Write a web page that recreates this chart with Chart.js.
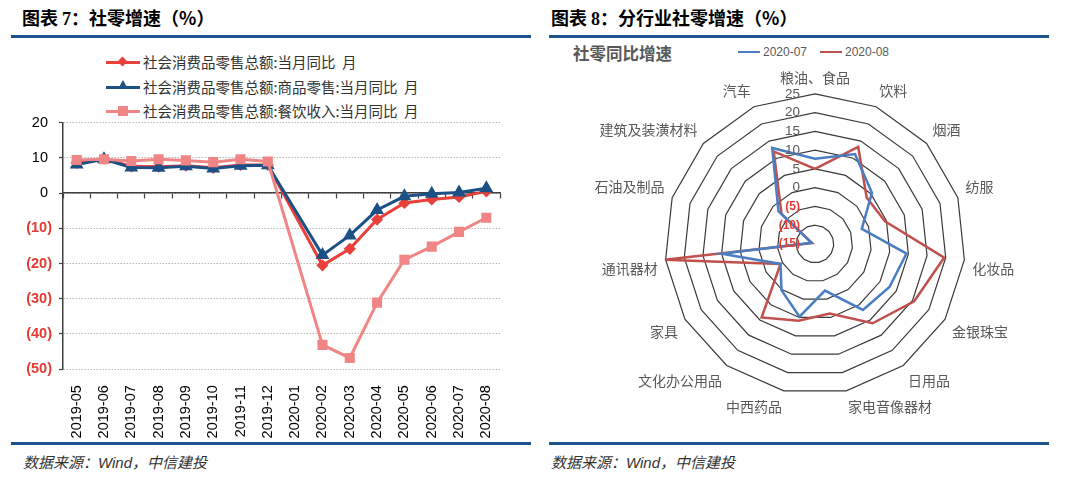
<!DOCTYPE html>
<html>
<head>
<meta charset="utf-8">
<title>社零增速</title>
<script src="https://cdn.jsdelivr.net/npm/chart.js"></script>
<style>
    body { margin: 0; width: 1080px; height: 500px; background: #fff; position: relative; overflow: hidden; font-family: "Noto Sans CJK SC", sans-serif; }
    .title { position: absolute; top: 4px; font-size: 18px; font-weight: bold; color: #000; white-space: nowrap; }
    .title .num { font-family: "Liberation Serif", serif; }
    .rule { position: absolute; height: 3px; background: #1F538D; }
    .source { position: absolute; top: 451px; font-size: 15px; font-style: italic; color: #333; white-space: nowrap; }
    .source .en { font-family: "Liberation Sans", sans-serif; }
    .box { position: absolute; }
    .legend-row { position: absolute; left: 106px; height: 20px; font-size: 14.5px; color: #333; white-space: nowrap; }
    .legend-row .ln { position: absolute; left: 0; top: 9px; width: 34px; height: 3px; }
    .legend-row .mk { position: absolute; }
    .legend-row .tx { position: absolute; left: 37px; top: -1px; }
    .rtitle { position: absolute; left: 573px; top: 41px; font-size: 16.5px; font-weight: bold; color: #595959; }
    .rleg { position: absolute; top: 45px; font-size: 12px; color: #595959; font-family: "Liberation Sans", sans-serif; white-space: nowrap; }
    .rleg span { display: inline-block; width: 22px; height: 2px; vertical-align: middle; margin-right: 3px; position: relative; top: -1px; }
</style>
</head>
<body>
    <!-- 左: 社零增速 -->
    <div class="title" style="left:22px;">图表&nbsp;<span class="num">7</span>：社零增速（%）</div>
    <div class="rule" style="left:11px; top:35px; width:520px;"></div>

    <div class="legend-row" style="top:52px;">
        <div class="ln" style="background:#E8403A;"></div>
        <div class="mk" style="left:13px; top:6px; width:7px; height:7px; background:#E8403A; transform:rotate(45deg);"></div>
        <div class="tx">社会消费品零售总额:当月同比&nbsp;&nbsp;月</div>
    </div>
    <div class="legend-row" style="top:77px;">
        <div class="ln" style="background:#1C5185;"></div>
        <div class="mk" style="left:12px; top:3px; width:0; height:0; border-left:5px solid transparent; border-right:5px solid transparent; border-bottom:9px solid #1C5185;"></div>
        <div class="tx">社会消费品零售总额:商品零售:当月同比&nbsp;&nbsp;月</div>
    </div>
    <div class="legend-row" style="top:101px;">
        <div class="ln" style="background:#F08585;"></div>
        <div class="mk" style="left:12px; top:5px; width:10px; height:10px; background:#F08585;"></div>
        <div class="tx">社会消费品零售总额:餐饮收入:当月同比&nbsp;&nbsp;月</div>
    </div>

    <div class="box" style="left:0; top:106.8px; width:540px; height:335.2px;">
        <canvas id="lineChart"></canvas>
    </div>

    <div class="rule" style="left:11px; top:442px; width:520px;"></div>
    <div class="source" style="left:23px;">数据来源：<span class="en">Wind</span>，中信建投</div>

    <!-- 右: 分行业社零增速 -->
    <div class="title" style="left:551px;">图表&nbsp;<span class="num">8</span>：分行业社零增速（%）</div>
    <div class="rule" style="left:549px; top:35px; width:500px;"></div>

    <div class="rtitle">社零同比增速</div>
    <div class="rleg" style="left:738px;"><span style="background:#4A7EC2;"></span>2020-07</div>
    <div class="rleg" style="left:820px;"><span style="background:#C0504D;"></span>2020-08</div>

    <div class="box" style="left:555px; top:68px; width:520px; height:350px;">
        <canvas id="radarChart"></canvas>
    </div>

    <div class="rule" style="left:549px; top:442px; width:500px;"></div>
    <div class="source" style="left:551px;">数据来源：<span class="en">Wind</span>，中信建投</div>

    <script>
        // 左図データ (%), 2020-01 は欠損
        const months = ["2019-05", "2019-06", "2019-07", "2019-08", "2019-09", "2019-10", "2019-11", "2019-12",
                        "2020-01", "2020-02", "2020-03", "2020-04", "2020-05", "2020-06", "2020-07", "2020-08"];
        const retailTotal = [8.6, 9.8, 7.6, 7.5, 7.8, 7.2, 8.0, 8.0, null, -20.5, -15.8, -7.5, -2.8, -1.8, -1.1, 0.5];
        const retailGoods = [8.1, 9.6, 7.3, 7.2, 7.6, 7.0, 7.8, 7.9, null, -17.6, -12.0, -4.8, -0.9, -0.2, 0.2, 1.4];
        const retailCatering = [9.4, 9.6, 9.1, 9.6, 9.3, 8.8, 9.6, 9.0, null, -43.1, -46.8, -31.1, -18.9, -15.2, -11.0, -7.0];

        // 右図データ (%)
        const industries = ["粮油、食品", "饮料", "烟酒", "纺服", "化妆品", "金银珠宝", "日用品", "家电音像器材",
                            "中西药品", "文化办公用品", "家具", "通讯器材", "石油及制品", "建筑及装潢材料", "汽车"];
        const growthJul = [7.7, 11.2, 5.4, -1.9, 9.5, 7.9, 6.7, -2.3, 4.8, 0.2, -4.4, 10.0, -14.0, -1.9, 13.0];
        const growthAug = [5.0, 13.3, 3.5, 4.6, 19.6, 15.5, 11.1, 3.9, 5.9, 9.2, -4.4, 25.2, -14.2, -3.0, 12.0];

        const RED = "#E8403A";
        const NAVY = "#1C5185";
        const PINK = "#F08585";
        const NEG = "#E63B35";

        Chart.defaults.animation = false;

        const lineChart = new Chart(document.getElementById("lineChart").getContext("2d"), {
            type: "line",
            data: {
                labels: months,
                datasets: [
                    { label: "社会消费品零售总额:当月同比 月", data: retailTotal, borderColor: RED, backgroundColor: RED,
                      borderWidth: 3, pointStyle: "rectRot", pointRadius: 4, order: 2 },
                    { label: "社会消费品零售总额:商品零售:当月同比 月", data: retailGoods, borderColor: NAVY, backgroundColor: NAVY,
                      borderWidth: 3, pointStyle: "triangle", pointRadius: 5, order: 1 },
                    { label: "社会消费品零售总额:餐饮收入:当月同比 月", data: retailCatering, borderColor: PINK, backgroundColor: PINK,
                      borderWidth: 3, pointStyle: "rect", pointRadius: 5, order: 0 },
                ],
            },
            options: {
                responsive: true,
                maintainAspectRatio: false,
                spanGaps: true,
                layout: { padding: { left: 0, right: 40, top: 10.5, bottom: 0 } },
                plugins: { legend: { display: false }, tooltip: { enabled: false } },
                scales: {
                    x: {
                        type: "category",
                        offset: true,
                        grid: { display: false },
                        border: { display: false },
                        ticks: {
                            minRotation: 90, maxRotation: 90, autoSkip: false, padding: 8, color: "#000",
                            font: { family: '"Liberation Sans", Arial', size: 14.5 },
                        },
                        afterFit(scale) { scale.height = 73; },
                    },
                    // 0 の位置に引く軸 (目盛り付き)
                    x0: {
                        type: "category",
                        offset: true,
                        position: { y: 0 },
                        grid: { display: true, offset: true, drawOnChartArea: false, drawTicks: true, tickLength: 5, tickColor: "#404040", tickWidth: 1.2 },
                        border: { display: true, color: "#404040", width: 1.5 },
                        ticks: { display: false },
                    },
                    y: {
                        min: -50,
                        max: 20,
                        ticks: {
                            stepSize: 10,
                            padding: 7,
                            callback: (v) => (v < 0 ? "(" + (-v) + ")" : v + " "),
                            color: (ctx) => (ctx.tick && ctx.tick.value < 0 ? NEG : "#000"),
                            font: (ctx) => ({ family: '"Liberation Sans", Arial', size: 14.5, weight: ctx.tick && ctx.tick.value < 0 ? "bold" : "normal" }),
                        },
                        grid: { color: "#b8b8b8", lineWidth: 1, tickLength: 4, tickColor: "#404040", tickWidth: 1.2 },
                        border: { color: "#404040", width: 1.5, dash: [1.5, 1.5] },
                        afterFit(scale) { scale.width = 63; },
                    },
                },
            },
        });

        // レーダーの目盛りラベル (軸の左側, 負値は赤の括弧表示)
        const radialTickLabels = {
            id: "radialTickLabels",
            afterDatasetsDraw(chart) {
                const s = chart.scales.r;
                const c = chart.ctx;
                c.save();
                c.textAlign = "right";
                c.textBaseline = "middle";
                s.ticks.forEach((t) => {
                    const p = s.getPointPositionForValue(0, t.value);
                    const neg = t.value < 0;
                    c.font = (neg ? "bold 12px " : "13.5px ") + '"Liberation Sans", Arial';
                    c.fillStyle = neg ? NEG : "#595959";
                    c.fillText(neg ? "(" + (-t.value) + ")" : String(t.value), p.x - 15, p.y);
                });
                c.restore();
            },
        };

        const radarChart = new Chart(document.getElementById("radarChart").getContext("2d"), {
            type: "radar",
            data: {
                labels: industries,
                datasets: [
                    { label: "2020-07", data: growthJul, borderColor: "#4A7EC2", borderWidth: 2.5, pointRadius: 0, fill: false },
                    { label: "2020-08", data: growthAug, borderColor: "#C0504D", borderWidth: 2.5, pointRadius: 0, fill: false },
                ],
            },
            options: {
                responsive: true,
                maintainAspectRatio: false,
                plugins: { legend: { display: false }, tooltip: { enabled: false } },
                scales: {
                    r: {
                        min: -15,
                        max: 25,
                        ticks: { display: false, stepSize: 5, maxTicksLimit: 20, font: { size: 8 }, backdropPadding: 0 },
                        grid: { circular: false, color: "#3a3a3a", lineWidth: 1.2 },
                        angleLines: { display: false },
                        pointLabels: { color: "#595959", padding: 8, font: { family: '"Noto Sans CJK SC"', size: 14 } },
                    },
                },
            },
            plugins: [radialTickLabels],
        });
    </script>
</body>
</html>
